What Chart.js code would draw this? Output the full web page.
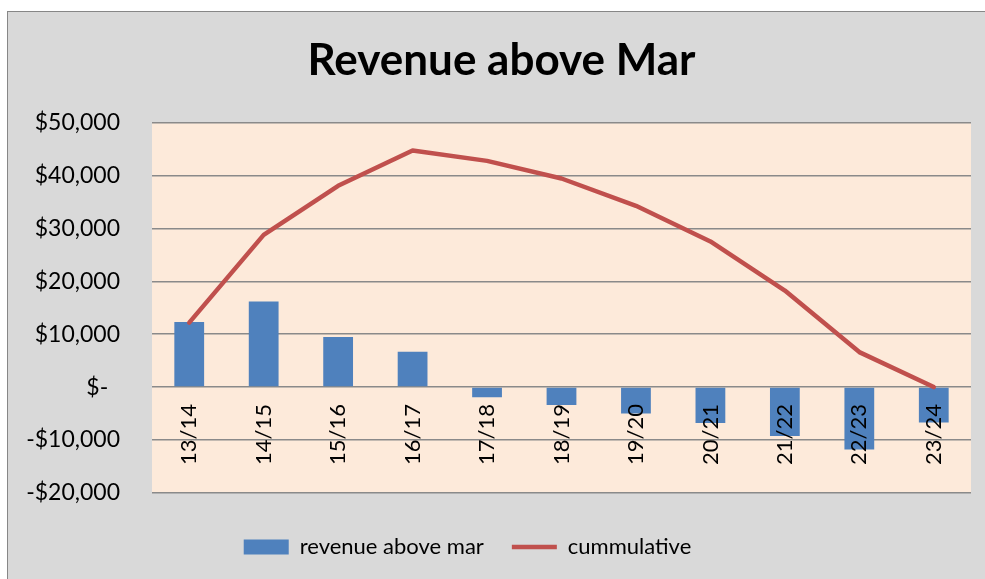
<!DOCTYPE html>
<html>
<head>
<meta charset="utf-8">
<title>Revenue above Mar</title>
<script src="https://cdn.jsdelivr.net/npm/chart.js@4"></script>
<style>
  html, body { margin: 0; padding: 0; background: #fff; }
  #box {
    position: absolute; left: 7px; top: 11px;
    width: 977px; height: 567px;
    border-left: 1px solid #878787; border-top: 1px solid #878787;
    background: #d9d9d9;
  }
</style>
</head>
<body>
<div id="box"><canvas id="myChart"></canvas></div>
<script>
const categories = ['13/14', '14/15', '15/16', '16/17', '17/18', '18/19', '19/20', '20/21', '21/22', '22/23', '23/24'];
const revenueAboveMar = [12300, 16200, 9460, 6680, -1900, -3400, -5000, -6800, -9270, -11800, -6700];
const cumulative = [12200, 28800, 38080, 44760, 42800, 39460, 34300, 27550, 18270, 6620, 0];
const yMin = -20000;
const yMax = 50000;
const yStep = 10000;

function money(v) {
    if (v === 0) return '$-  ';
    const s = '$' + Math.abs(v).toLocaleString('en-US');
    return v < 0 ? '-' + s : s;
}

// peach fill behind the plot
const plotBg = {
    id: 'plotBg',
    beforeDraw(chart) {
        const a = chart.chartArea;
        const ctx = chart.ctx;
        ctx.save();
        ctx.fillStyle = '#fdeada';
        ctx.fillRect(a.left, a.top, a.right - a.left, a.bottom - a.top);
        ctx.restore();
    }
};

// nudge title and legend sideways like the original
const nudge = {
    id: 'nudge',
    afterLayout(chart) {
        chart.titleBlock.left += 12;
        chart.titleBlock.right += 12;
        chart.legend.left -= 22;
        chart.legend.right -= 22;
    }
};

Chart.defaults.font.family = 'Lato, "Open Sans", sans-serif';
Chart.defaults.color = '#000';

new Chart(document.getElementById('myChart'), {
    data: {
        labels: categories,
        datasets: [{
            type: 'bar',
            label: 'revenue above mar',
            data: revenueAboveMar,
            backgroundColor: '#4f81bd',
            borderWidth: 0,
            categoryPercentage: 1,
            barPercentage: 0.4,
            order: 1
        }, {
            type: 'line',
            label: 'cummulative',
            data: cumulative,
            borderColor: '#c0504d',
            backgroundColor: '#c0504d',
            borderWidth: 4.5,
            borderCapStyle: 'round',
            borderJoinStyle: 'round',
            pointRadius: 0,
            tension: 0,
            order: 0
        }]
    },
    options: {
        responsive: true,
        maintainAspectRatio: false,
        animation: false,
        layout: {
            padding: { left: 0, right: 14, top: 0, bottom: 11 }
        },
        scales: {
            x: {
                position: { y: 0 },
                grid: { display: false, drawTicks: false },
                border: { display: false },
                ticks: {
                    z: 1,
                    minRotation: 90,
                    maxRotation: 90,
                    padding: 17,
                    font: { size: 22 }
                }
            },
            y: {
                min: yMin,
                max: yMax,
                afterFit(scale) { scale.width = 144; },
                grid: { color: '#8a8a8a', lineWidth: 1.5, drawTicks: false },
                border: { display: false },
                ticks: {
                    stepSize: yStep,
                    padding: 32,
                    font: { size: 23 },
                    callback: (v) => money(v)
                }
            }
        },
        plugins: {
            title: {
                display: true,
                text: 'Revenue above Mar',
                font: { size: 44, weight: 'bold' },
                padding: { top: 22, bottom: 36 }
            },
            legend: {
                position: 'bottom',
                title: {
                    display: true,
                    text: '',
                    font: { size: 1 },
                    padding: { top: 14, bottom: 0 }
                },
                labels: {
                    usePointStyle: true,
                    pointStyleWidth: 45,
                    boxHeight: 15,
                    padding: 28,
                    font: { size: 22 },
                    sort: (a, b) => a.datasetIndex - b.datasetIndex,
                    generateLabels(chart) {
                        const items = Chart.defaults.plugins.legend.labels.generateLabels(chart);
                        items.forEach(it => {
                            it.pointStyle = it.datasetIndex === 0 ? 'rect' : 'line';
                        });
                        return items;
                    }
                }
            },
            tooltip: { enabled: false }
        }
    },
    plugins: [plotBg, nudge]
});
</script>
</body>
</html>
